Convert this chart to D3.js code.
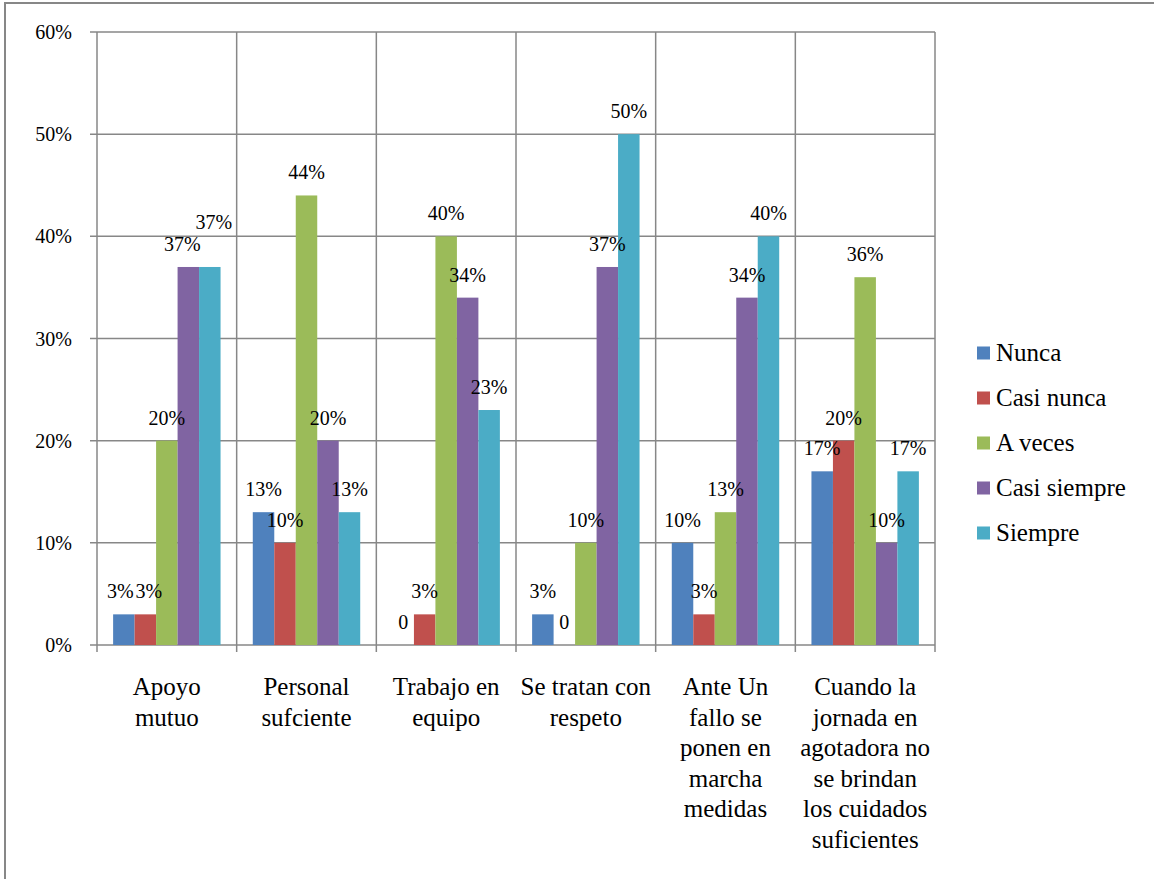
<!DOCTYPE html>
<html>
<head>
<meta charset="utf-8">
<script src="https://cdn.jsdelivr.net/npm/d3@7"></script>
<style>
  body { margin: 0; background: #fff; }
</style>
</head>
<body>
<div id="chart"></div>
<script>
// categories (line breaks as in the original wrapped labels)
const categories = [
    "Apoyo\nmutuo",
    "Personal\nsufciente",
    "Trabajo en\nequipo",
    "Se tratan con\nrespeto",
    "Ante Un\nfallo se\nponen en\nmarcha\nmedidas",
    "Cuando la\njornada en\nagotadora no\nse brindan\nlos cuidados\nsuficientes"
];
const seriesNames = ["Nunca", "Casi nunca", "A veces", "Casi siempre", "Siempre"];
const seriesColors = ["#4F81BD", "#C0504D", "#9BBB59", "#8064A2", "#4BACC6"];

// values in %, one array per series
const nunca       = [3, 13, 0, 3, 10, 17];
const casiNunca   = [3, 10, 3, 0, 3, 20];
const aVeces      = [20, 44, 40, 10, 13, 36];
const casiSiempre = [37, 20, 34, 37, 34, 10];
const siempre     = [37, 13, 23, 50, 40, 17];

const yTicks = [0, 10, 20, 30, 40, 50, 60];

const series = [nunca, casiNunca, aVeces, casiSiempre, siempre];

let width = 1154, height = 879;
let plot = {left: 97, right: 935, top: 32, bottom: 645};
let gridColor = "#878787";
let serif = "'Liberation Serif', Tinos, 'Times New Roman', 'DejaVu Serif', serif";

let svg = d3.select("#chart")
    .append("svg")
        .attr("width", width)
        .attr("height", height)
        .style("font-family", serif);

// outer chart border (only left and top visible in the picture)
svg.append("path")
    .attr("d", "M5," + height + " V3 H" + width)
    .attr("fill", "none")
    .attr("stroke", gridColor)
    .attr("stroke-width", 2);

let xScale = d3.scaleBand()
    .domain(d3.range(categories.length))
    .range([plot.left, plot.right])
    .padding(0);

let xInner = d3.scaleBand()
    .domain(d3.range(seriesNames.length))
    .range([0, xScale.bandwidth()])
    .paddingInner(0)
    .paddingOuter(0.75);

let yScale = d3.scaleLinear()
    .domain([0, 60])
    .range([plot.bottom, plot.top]);

// horizontal gridlines + tick marks
svg.append("g")
    .selectAll("line")
    .data(yTicks)
    .enter()
    .append("line")
        .attr("x1", plot.left - 7)
        .attr("x2", plot.right)
        .attr("y1", d => yScale(d))
        .attr("y2", d => yScale(d))
        .attr("stroke", gridColor)
        .attr("stroke-width", 1.5);

// vertical gridlines at category boundaries
let bounds = d3.range(categories.length + 1).map(i => plot.left + i * xScale.step());
svg.append("g")
    .selectAll("line")
    .data(bounds)
    .enter()
    .append("line")
        .attr("x1", d => d)
        .attr("x2", d => d)
        .attr("y1", plot.top)
        .attr("y2", plot.bottom + 7)
        .attr("stroke", gridColor)
        .attr("stroke-width", 1.5);

// y tick labels
svg.append("g")
    .selectAll("text")
    .data(yTicks)
    .enter()
    .append("text")
        .attr("x", plot.left - 25)
        .attr("y", d => yScale(d))
        .attr("dy", "0.35em")
        .attr("text-anchor", "end")
        .style("font-family", serif)
        .style("font-size", "20px")
        .text(d => d + "%");

// bars
series.forEach((values, s) => {
    svg.append("g")
        .selectAll("rect")
        .data(values)
        .enter()
        .append("rect")
            .attr("x", (d, i) => xScale(i) + xInner(s))
            .attr("y", d => yScale(d))
            .attr("width", xInner.bandwidth())
            .attr("height", d => plot.bottom - yScale(d))
            .attr("fill", seriesColors[s]);
});

// data labels; small collisions are spread sideways, big ones pushed up
let labelLayer = svg.append("g");
categories.forEach((c, i) => {
    let labels = series.map((values, s) => {
        let v = values[i];
        let t = labelLayer.append("text")
            .attr("text-anchor", "middle")
            .style("font-family", serif)
            .style("font-size", "20px")
            .text(v === 0 ? "0" : v + "%");
        return {
            node: t,
            x: xScale(i) + xInner(s) + xInner.bandwidth() / 2,
            y: yScale(v) - 23,
            w: t.node().getComputedTextLength()
        };
    });
    for (let k = 1; k < labels.length; k++) {
        let a = labels[k - 1], b = labels[k];
        if (Math.abs(a.y - b.y) < 18) {
            let overlap = (a.x + a.w / 2 + 2) - (b.x - b.w / 2);
            if (overlap > 10) {
                a.x -= 6;
                b.x += 4;
                b.y -= 22;
            } else if (overlap > 0) {
                a.x -= overlap / 2;
                b.x += overlap / 2;
            }
        }
    }
    labels.forEach(l => {
        l.node.attr("x", l.x).attr("y", l.y).attr("dy", "0.35em");
    });
});

// category labels
let catLabels = svg.append("g")
    .selectAll("text")
    .data(categories)
    .enter()
    .append("text")
        .attr("x", (d, i) => xScale(i) + xScale.bandwidth() / 2)
        .attr("y", 695)
        .attr("text-anchor", "middle")
        .style("font-family", serif)
        .style("font-size", "25px");

catLabels.each(function(d) {
    let el = d3.select(this);
    let x = el.attr("x");
    d.split("\n").forEach((line, j) => {
        el.append("tspan")
            .attr("x", x)
            .attr("dy", j === 0 ? 0 : 30.5)
            .text(line);
    });
});

// legend
let legend = svg.append("g")
    .selectAll("g")
    .data(seriesNames)
    .enter()
    .append("g")
        .attr("transform", (d, i) => "translate(977," + (353 + i * 45) + ")");

legend.append("rect")
    .attr("x", 0)
    .attr("y", -6.5)
    .attr("width", 13)
    .attr("height", 13)
    .attr("fill", (d, i) => seriesColors[i]);

legend.append("text")
    .attr("x", 19)
    .attr("y", 0)
    .attr("dy", "0.33em")
    .style("font-family", serif)
    .style("font-size", "25px")
    .text(d => d);
</script>
</body>
</html>
